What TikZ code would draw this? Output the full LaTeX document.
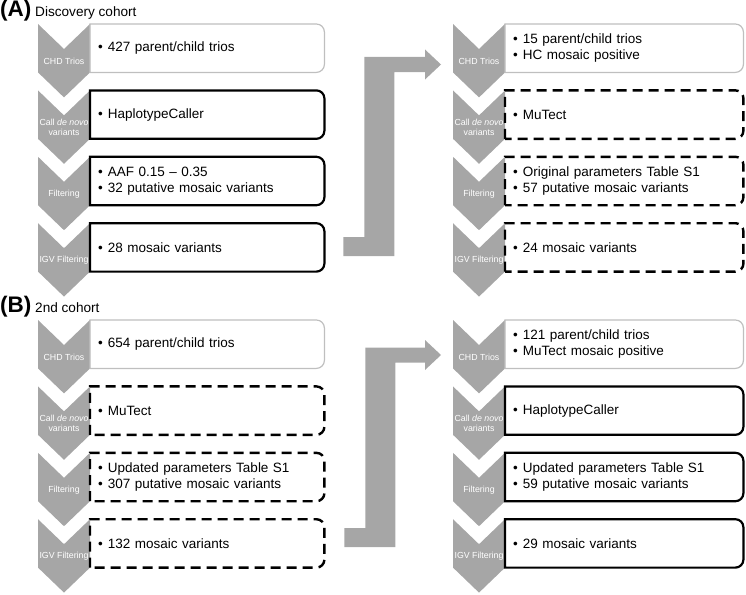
\documentclass[tikz,border=0pt]{standalone}
\usepackage{fontspec}
\setmainfont{Liberation Sans}
\usetikzlibrary{positioning,calc}

\definecolor{chevgray}{RGB}{166,166,166}
\definecolor{triogray}{RGB}{191,191,191}

\newcommand{\itm}[1]{\textbullet\hspace{5pt}#1}
% gray chevron on the left side of a stage box
\newcommand{\stagechevron}[2]{%
  \fill[chevgray] ([xshift=-52pt]#1.north west) -- ([xshift=-26pt,yshift=-25pt]#1.north west)
    -- (#1.north west) -- (#1.south west) -- ([xshift=-26pt,yshift=-25pt]#1.south west)
    -- ([xshift=-52pt]#1.south west) -- cycle;
  \node[chevlabel] (#1l) at ([xshift=-26pt,yshift=-37pt]#1.north west) {#2};}
% frame with round corners on the right only
\newcommand{\stageframe}[2]{%
  \draw[#2] (#1.south west) -- (#1.north west) -- ([xshift=-8pt]#1.north east)
    arc[start angle=90,end angle=0,radius=8pt] -- ([yshift=8pt]#1.south east)
    arc[start angle=0,end angle=-90,radius=8pt] -- cycle;}
% bent-up block arrow from a foot to a tip
\newcommand{\bentarrow}[2]{%
  \fill[chevgray] let \p1=(#1), \p2=(#2) in
    (\x1,\y1+9.5pt) -- (\x1+21pt,\y1+9.5pt) -- (\x1+21pt,\y2+7.5pt) -- (\x2-16pt,\y2+7.5pt)
    -- (\x2-16pt,\y2+15pt) -- (\x2,\y2) -- (\x2-16pt,\y2-15pt) -- (\x2-16pt,\y2-7.5pt)
    -- (\x1+51pt,\y2-7.5pt) -- (\x1+51pt,\y1-9.5pt) -- (\x1,\y1-9.5pt) -- cycle;}

\begin{document}
\begin{tikzpicture}[x=1pt,y=-1pt,
    box/.style={minimum height=48pt,inner xsep=8pt,inner ysep=0pt,align=left,
      font=\fontsize{13.5}{15.5}\selectfont},
    lbox/.style={box,text width=218pt},
    rbox/.style={box,text width=222pt},
    chevlabel/.style={text=white,align=center,inner sep=0pt,
      font=\fontsize{8.8}{9.6}\selectfont},
    trioline/.style={draw=triogray,line width=1.2pt},
    hcline/.style={draw=black,line width=2.2pt},
    mtline/.style={draw=black,line width=2.4pt,dash pattern=on 10pt off 6pt},
    panel/.style={anchor=base west,inner sep=0pt,font=\bfseries\fontsize{22.5}{26}\selectfont},
    cohort/.style={anchor=base west,inner sep=0pt,font=\fontsize{13.6}{16}\selectfont}]
  \useasboundingbox (0,0) rectangle (746,594);

  % (A) discovery cohort
  \node[panel] (pA) at (0,16.5) {(A)};
  \node[cohort] (cA) at (35,16.5) {Discovery cohort};
  \node[lbox,anchor=north west] (ahc1) at (90,24) {\itm{427 parent/child trios}};
  \node[lbox] (ahc2) [below=18pt of ahc1] {\itm{HaplotypeCaller}};
  \node[lbox] (ahc3) [below=18pt of ahc2] {\itm{AAF 0.15 -- 0.35}\\\itm{32 putative mosaic variants}};
  \node[lbox] (ahc4) [below=18pt of ahc3] {\itm{28 mosaic variants}};
  \node[rbox,anchor=north west] (amt1) at (505,24) {\itm{15 parent/child trios}\\\itm{HC mosaic positive}};
  \node[rbox] (amt2) [below=18pt of amt1] {\itm{MuTect}};
  \node[rbox] (amt3) [below=18pt of amt2] {\itm{Original parameters Table S1}\\\itm{57 putative mosaic variants}};
  \node[rbox] (amt4) [below=18pt of amt3] {\itm{24 mosaic variants}};

  % (B) 2nd cohort
  \node[panel] (pB) at (0,312.5) {(B)};
  \node[cohort] (cB) at (35,312.5) {2nd cohort};
  \node[lbox,anchor=north west] (bmt1) at (90,320) {\itm{654 parent/child trios}};
  \node[lbox] (bmt2) [below=18pt of bmt1] {\itm{MuTect}};
  \node[lbox] (bmt3) [below=18pt of bmt2] {\itm{Updated parameters Table S1}\\\itm{307 putative mosaic variants}};
  \node[lbox] (bmt4) [below=18pt of bmt3] {\itm{132 mosaic variants}};
  \node[rbox,anchor=north west] (bhc1) at (505,320) {\itm{121 parent/child trios}\\\itm{MuTect mosaic positive}};
  \node[rbox] (bhc2) [below=18pt of bhc1] {\itm{HaplotypeCaller}};
  \node[rbox] (bhc3) [below=18pt of bhc2] {\itm{Updated parameters Table S1}\\\itm{59 putative mosaic variants}};
  \node[rbox] (bhc4) [below=18pt of bhc3] {\itm{29 mosaic variants}};

  % chevrons
  \foreach \p in {ahc,amt,bmt,bhc}{
    \stagechevron{\p1}{CHD Trios}
    \stagechevron{\p2}{Call \textit{de novo}\\variants}
    \stagechevron{\p3}{Filtering}
    \stagechevron{\p4}{IGV Filtering}
  }

  % frames
  \stageframe{ahc1}{trioline}
  \stageframe{amt1}{trioline}
  \stageframe{bmt1}{trioline}
  \stageframe{bhc1}{trioline}
  \foreach \n in {2,3,4}{
    \stageframe{ahc\n}{hcline}
    \stageframe{amt\n}{mtline}
    \stageframe{bmt\n}{mtline}
    \stageframe{bhc\n}{hcline}
  }

  % arrows between the pipelines
  \coordinate (afoot) at ([xshift=19pt,yshift=-23.5pt]ahc4.north east);
  \coordinate (atip) at ([xshift=-64pt,yshift=-40.5pt]amt1.north west);
  \bentarrow{afoot}{atip}
  \coordinate (bfoot) at ([xshift=20pt,yshift=-18.5pt]bmt4.north east);
  \coordinate (btip) at ([xshift=-64pt,yshift=-35pt]bhc1.north west);
  \bentarrow{bfoot}{btip}
\end{tikzpicture}
\end{document}
